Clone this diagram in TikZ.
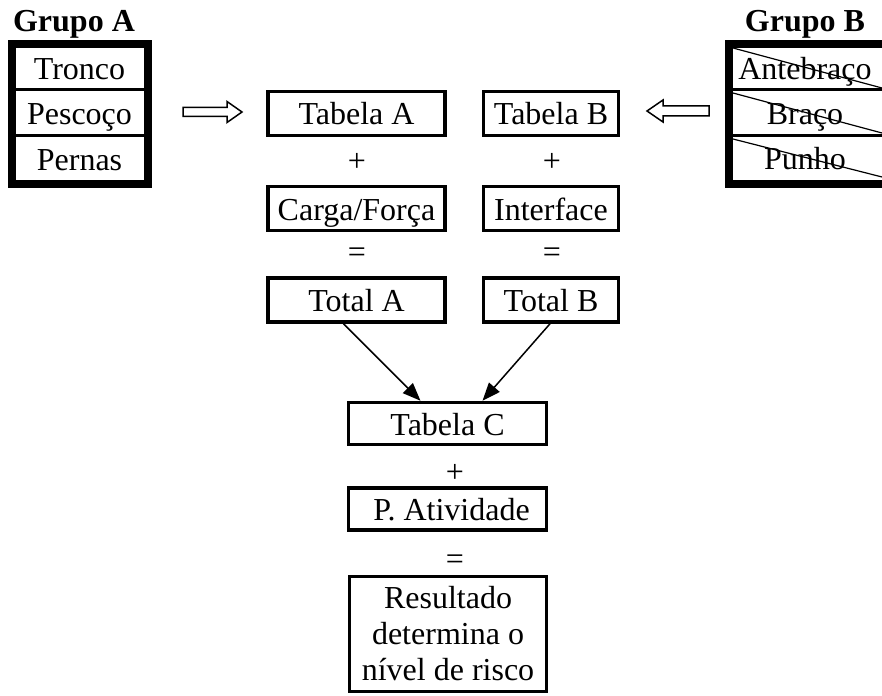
\documentclass[tikz,border=0pt]{standalone}
\usepackage{fontspec}
\setmainfont{Liberation Serif}
\usetikzlibrary{arrows.meta}
\begin{document}
\begin{tikzpicture}[x=1pt,y=-1pt,
  every node/.style={font=\fontsize{32}{36}\selectfont, inner sep=0pt},
  titlefont/.style={font=\bfseries\fontsize{32}{36}\selectfont, anchor=base},
  box/.style={draw, line width=3.5pt, text height=23pt, text depth=0pt},
  colA/.style={box, minimum width=177pt, minimum height=44pt},
  colB/.style={box, minimum width=135pt, minimum height=44pt},
  colC/.style={box, minimum width=198pt, minimum height=42pt},
  cell/.style={anchor=base},
  thinline/.style={line width=1.2pt},
  frame/.style={line width=8pt},
  divider/.style={line width=3pt},
  conn/.style={line width=1.5pt, -{Triangle[length=18pt,width=14pt]}},
  hollow/.style={line width=1.5pt, line join=miter}]
\useasboundingbox (0,0) rectangle (882,695);
\clip (0,0) rectangle (882,695);

% Grupo A
\node[titlefont] (gA) at (74,32) {Grupo A};
\draw[frame] (12,44) rectangle (147.5,183.5);
\draw[divider] (15,90) -- (144,90);
\draw[divider] (15,136) -- (144,136);
\node[cell] (tronco) at (79.5,80) {Tronco};
\node[cell] (pescoco) at (79.5,125) {Pescoço};
\node[cell] (pernas) at (79.5,170) {Pernas};

% Grupo B
\node[titlefont] (gB) at (805,32) {Grupo B};
\draw[frame] (729,44) rectangle (910,183.5);
\draw[divider] (733,90) -- (882,90);
\draw[divider] (733,136) -- (882,136);
\node[cell] (antebraco) at (805,80) {Antebraço};
\node[cell] (braco) at (805,125) {Braço};
\node[cell] (punho) at (805,169) {Punho};
\draw[thinline] (733,48) -- (882,88);
\draw[thinline] (733,93) -- (882,133);
\draw[thinline] (733,139) -- (882,177);

% hollow arrows
\draw[hollow] (183,107.5) -- (227,107.5) -- (227,101.5) -- (242,112) -- (227,122.5) -- (227,116.5) -- (183,116.5) -- cycle;
\draw[hollow] (709,106) -- (663,106) -- (663,100) -- (647,111) -- (663,122) -- (663,116) -- (709,116) -- cycle;

% columns
\node[colA] (tabA) at (356.5,113.5) {Tabela A};
\node[colB] (tabB) at (551,113.5) {Tabela B};
\node (plusA) at (357,162) {+};
\node (plusB) at (552,162) {+};
\node[colA] (carga) at (356.5,208.5) {Carga/Força};
\node[colB] (interf) at (551,208.5) {Interface};
\node (eqA) at (357,255) {=};
\node (eqB) at (552,255) {=};
\node[colA] (totA) at (356.5,300) {Total A};
\node[colB] (totB) at (551,300) {Total B};

\node[colC] (tabC) at (447.5,423.5) {Tabela C};
\node (plusC) at (455,473) {+};
\node[colC] (pativ) at (447.5,509) {\ P. Atividade};
\node (eqC) at (455,562) {=};
\node[draw, line width=3.5pt, minimum width=197pt, minimum height=115pt, align=center] (res) at (448,634) {Resultado\\determina o\\nível de risco};

\draw[conn] ([xshift=-13pt]totA.south) -- ([xshift=-27pt]tabC.north);
\draw[conn] ([xshift=-1pt]totB.south) -- ([xshift=35pt]tabC.north);
\end{tikzpicture}
\end{document}
